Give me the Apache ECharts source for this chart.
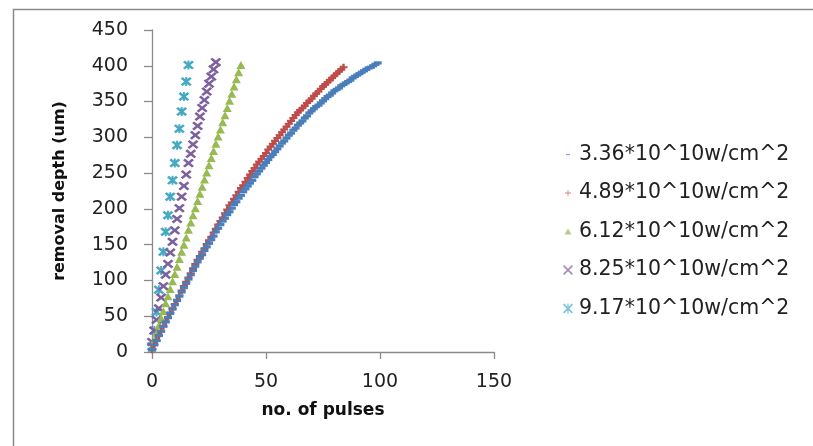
<!DOCTYPE html>
<html>
<head>
<meta charset="utf-8">
<script src="https://cdn.jsdelivr.net/npm/echarts@6/dist/echarts.min.js"></script>
<style>
html,body{margin:0;padding:0;background:#fff;}
#chart{width:813px;height:446px;}
</style>
</head>
<body>
<div id="chart"></div>
<script>
// Series names (legend)
var seriesNames = [
  '3.36*10^10w/cm^2',
  '4.89*10^10w/cm^2',
  '6.12*10^10w/cm^2',
  '8.25*10^10w/cm^2',
  '9.17*10^10w/cm^2'
];
// Removal depth (um) per pulse; index = number of pulses
var depth336 = [3,10,16,23,29,36,42,48,54,60,66,72,78,84,90,96,102,108,114,120,
  126,131,136,142,147,152,157,162,168,173,178,183,187,192,196,201,206,210,215,219,
  224,228,232,236,240,245,249,253,257,261,265,269,273,276,280,284,288,292,295,299,
  303,306,310,313,317,320,323,327,330,334,337,340,343,345,348,351,354,357,359,362,
  365,367,369,372,374,376,378,380,383,385,387,389,391,393,395,397,398,400,402,404];
var depth489 = [3,10,16,23,29,36,42,48,55,61,67,73,79,86,92,98,104,110,117,123,
  129,134,140,145,151,156,161,167,172,178,183,188,194,199,205,209,214,219,224,229,
  233,238,243,248,253,257,262,266,270,274,278,283,287,291,295,299,303,307,311,315,
  319,323,327,331,335,338,341,344,348,351,354,358,361,364,368,371,374,377,380,383,
  386,389,392,395,398];
var depth612 = [6,16,26,37,47,57,68,78,88,99,109,119,130,140,150,160,171,181,191,201,
  211,221,231,241,251,261,271,281,291,301,311,321,331,341,351,361,371,381,391,401];
var depth825 = [14,30,45,61,76,92,108,123,139,154,170,186,201,217,232,248,264,
  277,290,303,316,329,341,352,364,375,385,395,405];
var depth917 = [8,30,56,87,114,140,168,191,217,240,264,289,312,336,357,378,401];

var xTicks = [0, 50, 100, 150];
var yTicks = [0, 50, 100, 150, 200, 250, 300, 350, 400, 450];

var colors = ['#4A7EBB', '#BE4B48', '#98B954', '#7D60A0', '#46AAC5'];

var SYM_DASH = 'path://M0,0H10V3H0Z';
var SYM_PLUS = 'path://M3.5,0H6.5V3.5H10V6.5H6.5V10H3.5V6.5H0V3.5H3.5Z';
var SYM_X = 'path://M0,1.8L1.8,0L5,3.2L8.2,0L10,1.8L6.8,5L10,8.2L8.2,10L5,6.8L1.8,10L0,8.2L3.2,5Z';
var SYM_AST = 'path://M0,1.8L1.8,0L5,3.2L8.2,0L10,1.8L6.8,5L10,8.2L8.2,10L5,6.8L1.8,10L0,8.2L3.2,5Z M4.1,0H5.9V10H4.1Z';

var LEG_DASH = 'path://M0,0M10,10M3,4.4H7V5.6H3Z';
var LEG_PLUS = 'path://M0,0M10,10M4.6,2H5.4V4.6H8V5.4H5.4V8H4.6V5.4H2V4.6H4.6Z';
var LEG_TRI = 'path://M0,0M10,10M5,2L8.5,8H1.5Z';
var LEG_X = 'path://M0,1.2L1.2,0L5,3.8L8.8,0L10,1.2L6.2,5L10,8.8L8.8,10L5,6.2L1.2,10L0,8.8L3.8,5Z';
var LEG_AST = 'path://M0,1.2L1.2,0L5,3.8L8.8,0L10,1.2L6.2,5L10,8.8L8.8,10L5,6.2L1.2,10L0,8.8L3.8,5Z M4.4,0H5.6V10H4.4Z';

var allDepth = [depth336, depth489, depth612, depth825, depth917];
var symbols = [SYM_DASH, SYM_PLUS, 'triangle', SYM_X, SYM_AST];
var symSizes = [[8,3.2], [8,7], [9,8], [11,9], [11,9]];
var legendIcons = [LEG_DASH, LEG_PLUS, LEG_TRI, LEG_X, LEG_AST];

function toPoints(arr) {
  var out = [];
  for (var i = 0; i < arr.length; i++) out.push([i, arr[i]]);
  return out;
}

var series = [];
for (var s = 0; s < seriesNames.length; s++) {
  series.push({
    name: seriesNames[s],
    type: 'scatter',
    data: toPoints(allDepth[s]),
    symbol: symbols[s],
    symbolSize: symSizes[s],
    symbolKeepAspect: false,
    itemStyle: { color: colors[s], opacity: 1 },
    emphasis: { disabled: true },
    z: 10 - s
  });
}

var legendData = [];
for (var k = 0; k < seriesNames.length; k++) {
  legendData.push({ name: seriesNames[k], icon: legendIcons[k], itemStyle: { color: colors[k], opacity: 0.7 } });
}

var axisFont = 'DejaVu Sans';
var chart = echarts.init(document.getElementById('chart'), null, { renderer: 'canvas' });
chart.setOption({
  animation: false,
  backgroundColor: '#fff',
  graphic: [{
    type: 'rect',
    left: 11, top: 7,
    shape: { width: 830, height: 470 },
    style: { fill: 'none', stroke: '#8a8a8a', lineWidth: 1.5 },
    silent: true
  }],
  grid: { left: 152, right: 319, top: 30, bottom: 94 },
  xAxis: {
    type: 'value', min: xTicks[0], max: xTicks[xTicks.length - 1], interval: 50,
    name: 'no. of pulses', nameLocation: 'middle', nameGap: 50,
    nameTextStyle: { fontFamily: axisFont, fontWeight: 'bold', fontSize: 17, color: '#111' },
    axisLine: { show: true, onZero: false, lineStyle: { color: '#8a8a8a', width: 1.3 } },
    axisTick: { show: true, inside: false, length: 7, lineStyle: { color: '#8a8a8a', width: 1.3 } },
    axisLabel: { fontFamily: axisFont, fontSize: 19, color: '#222', margin: 21 },
    splitLine: { show: false }
  },
  yAxis: {
    type: 'value', min: yTicks[0], max: yTicks[yTicks.length - 1], interval: 50,
    name: 'removal depth (um)', nameLocation: 'middle', nameGap: 84, nameRotate: 90,
    nameTextStyle: { fontFamily: axisFont, fontWeight: 'bold', fontSize: 16, color: '#111' },
    axisLine: { show: true, onZero: false, lineStyle: { color: '#8a8a8a', width: 1.3 } },
    axisTick: { show: true, inside: false, length: 8, lineStyle: { color: '#8a8a8a', width: 1.3 } },
    axisLabel: { fontFamily: axisFont, fontSize: 19, color: '#222', margin: 24 },
    splitLine: { show: false }
  },
  legend: {
    orient: 'vertical',
    left: 558, top: 139,
    itemWidth: 12, itemHeight: 10, itemGap: 17.5,
    selectedMode: false,
    textStyle: { fontFamily: axisFont, fontSize: 20.5, lineHeight: 20, color: '#222' },
    data: legendData
  },
  series: series
});
</script>
</body>
</html>
